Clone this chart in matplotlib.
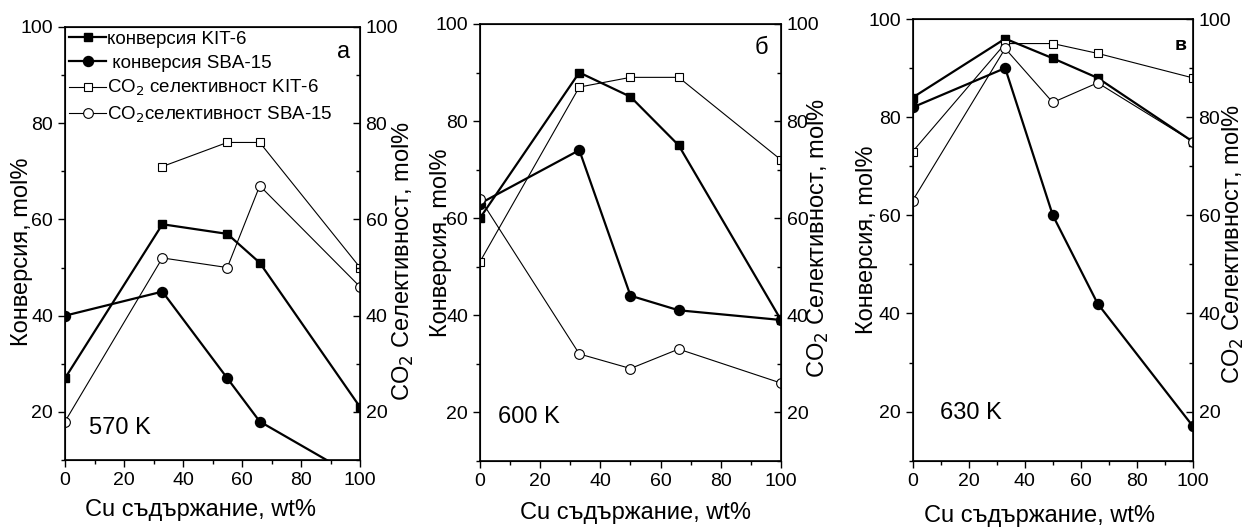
import matplotlib.pyplot as plt
from matplotlib.ticker import MultipleLocator

plt.rcParams["font.family"] = ["Liberation Sans", "DejaVu Sans"]

# Cu content, wt%
x = [0, 33, 50, 66, 100]
x_570 = [0, 33, 55, 66, 100]

# 570 K
conv_kit_570 = [27, 59, 57, 51, 21]
conv_sba_570 = [40, 45, 27, 18, 6]
sel_kit_570 = [None, 71, 76, 76, 50]
sel_sba_570 = [18, 52, 50, 67, 46]

# 600 K
conv_kit_600 = [60, 90, 85, 75, 39]
conv_sba_600 = [63, 74, 44, 41, 39]
sel_kit_600 = [51, 87, 89, 89, 72]
sel_sba_600 = [64, 32, 29, 33, 26]

# 630 K
conv_kit_630 = [84, 96, 92, 88, 75]
conv_sba_630 = [82, 90, 60, 42, 17]
sel_kit_630 = [73, 95, 95, 93, 88]
sel_sba_630 = [63, 94, 83, 87, 75]

labels = ["конверсия KIT-6", " конверсия SBA-15",
          "CO$_2$ селективност KIT-6", "CO$_2$селективност SBA-15"]

# axes rect, text positions (axes fractions)
panels = [
    dict(rect=[0.0521, 0.1271, 0.2364, 0.8217], x=x_570, temp="570 K", temp_xy=(0.081, 0.075),
         tag="а", tag_xy=(0.966, 0.942), tag_fs=17, bold=False,
         data=[conv_kit_570, conv_sba_570, sel_kit_570, sel_sba_570],
         xl=(0.46, -0.09), yl=(-0.108, 0.48), yr=(1.105, 0.46)),
    dict(rect=[0.3846, 0.1258, 0.2412, 0.8287], x=x, temp="600 K", temp_xy=(0.06, 0.1),
         tag="б", tag_xy=(0.957, 0.945), tag_fs=17, bold=False,
         data=[conv_kit_600, conv_sba_600, sel_kit_600, sel_sba_600],
         xl=(0.518, -0.095), yl=(-0.093, 0.5), yr=(1.083, 0.51)),
    dict(rect=[0.7313, 0.1258, 0.2246, 0.8381], x=x, temp="630 K", temp_xy=(0.097, 0.108),
         tag="в", tag_xy=(0.979, 0.941), tag_fs=14, bold=True,
         data=[conv_kit_630, conv_sba_630, sel_kit_630, sel_sba_630],
         xl=(0.454, -0.10), yl=(-0.124, 0.5), yr=(1.10, 0.49)),
]

fig = plt.figure(figsize=(12.48, 5.27), dpi=100)

for i, p in enumerate(panels):
    ax = fig.add_axes(p["rect"])
    ck, cs, sk, ss = p["data"]
    xs = p["x"]
    xk = [xx for xx, v in zip(xs, sk) if v is not None]
    sk = [v for v in sk if v is not None]
    ax.plot(xs, ck, "-s", color="black", lw=1.6, ms=6.2, mfc="black", mec="black", label=labels[0])
    ax.plot(xs, cs, "-o", color="black", lw=1.6, ms=7.2, mfc="black", mec="black", label=labels[1])
    ax.plot(xk, sk, "-s", color="black", lw=0.8, ms=5.8, mfc="white", mec="black", mew=0.8, label=labels[2])
    ax.plot(xs, ss, "-o", color="black", lw=0.8, ms=7, mfc="white", mec="black", mew=0.8, label=labels[3])

    ax.set_xlim(0, 100)
    ax.set_ylim(10, 100)
    ax.xaxis.set_major_locator(MultipleLocator(20))
    ax.xaxis.set_minor_locator(MultipleLocator(10))
    ax.yaxis.set_major_locator(MultipleLocator(20))
    ax.yaxis.set_minor_locator(MultipleLocator(10))
    ax.tick_params(which="both", direction="out", labelsize=14, top=False, right=False)
    ax.tick_params(which="major", length=5, width=1)
    ax.tick_params(which="minor", length=3, width=1)
    for s in ax.spines.values():
        s.set_linewidth(1.2)
    ax.set_xlabel("Cu съдържание, wt%", fontsize=17)
    ax.xaxis.set_label_coords(*p["xl"])
    ax.set_ylabel("Конверсия, mol%", fontsize=17)
    ax.yaxis.set_label_coords(*p["yl"])

    ax2 = ax.twinx()
    ax2.set_ylim(10, 100)
    ax2.yaxis.set_major_locator(MultipleLocator(20))
    ax2.yaxis.set_minor_locator(MultipleLocator(10))
    ax2.tick_params(which="both", direction="in", labelsize=14)
    ax2.tick_params(which="major", length=5, width=1, pad=4)
    ax2.tick_params(which="minor", length=3, width=1)
    ax2.set_ylabel("CO$_2$ Селективност, mol%", fontsize=17)
    ax2.yaxis.set_label_coords(*p["yr"])

    ax.text(*p["temp_xy"], p["temp"], transform=ax.transAxes, fontsize=17, va="center")
    ax.text(*p["tag_xy"], p["tag"], transform=ax.transAxes, fontsize=p["tag_fs"],
            ha="right", va="center", fontweight="bold" if p["bold"] else "normal")

    if i == 0:
        ax.legend(loc="upper left", frameon=False, fontsize=13.5, handlelength=2.0,
                  handletextpad=0.05, labelspacing=0.35, borderaxespad=0.1,
                  borderpad=0.1)

fig.savefig("out.png", dpi=100)
